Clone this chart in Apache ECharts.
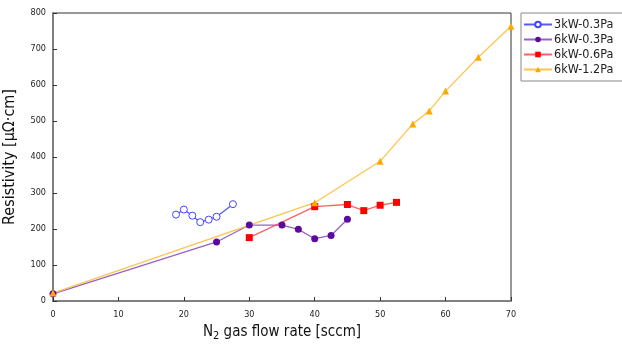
<!DOCTYPE html>
<html>
<head>
<meta charset="utf-8">
<script src="https://cdn.jsdelivr.net/npm/echarts@6/dist/echarts.min.js"></script>
<style>
  html, body { margin: 0; padding: 0; background: #fff; }
  #chart { width: 622px; height: 344px; }
</style>
</head>
<body>
<div id="chart"></div>
<script>
// series data: [flow sccm, resistivity]
const s3kW03 = [[18.8, 240], [20.0, 254], [21.3, 237], [22.5, 219], [23.8, 226], [25.0, 234], [27.5, 269]];
const s6kW03 = [[0, 20], [25, 164], [30, 211], [35, 211], [37.5, 199], [40, 173], [42.5, 182], [45, 227]];
const s6kW06 = [[30, 176], [40, 262], [45, 268], [47.5, 251], [50, 266], [52.5, 274]];
const s6kW12 = [[0, 22], [40, 273], [50, 388], [55, 492], [57.5, 528], [60, 583], [65, 677], [70, 763]];
const seriesNames = ['3kW-0.3Pa', '6kW-0.3Pa', '6kW-0.6Pa', '6kW-1.2Pa'];

const FONT = '"DejaVu Sans Condensed", Tahoma, "DejaVu Sans", sans-serif';
const chart = echarts.init(document.getElementById('chart'));

function line(name, data, color, lineColor, symbol, size, itemStyle) {
  return {
    name: name,
    type: 'line',
    data: data,
    symbol: symbol,
    symbolSize: size,
    lineStyle: { color: lineColor, width: 1.3 },
    itemStyle: itemStyle || { color: color, borderWidth: 0 },
    animation: false
  };
}

chart.setOption({
  backgroundColor: '#fff',
  grid: {
    left: 53, right: 111, top: 13, bottom: 43,
    outerBoundsMode: 'none',
    containLabel: false,
    show: true, borderColor: '#333', borderWidth: 1
  },
  legend: {
    orient: 'vertical',
    left: 521, top: 13,
    padding: [5, 10, 5, 2],
    itemGap: 2,
    itemWidth: 28, itemHeight: 7,
    borderColor: '#888', borderWidth: 1,
    textStyle: { fontFamily: FONT, fontSize: 12.5, color: '#222', padding: [0, 0, 0, -3] },
    data: seriesNames
  },
  xAxis: {
    type: 'value', min: 0, max: 70, interval: 10,
    name: '{n|N}{s|2}{n| gas flow rate [sccm]}',
    nameLocation: 'middle', nameGap: 22,
    nameTextStyle: {
      rich: {
        n: { fontFamily: FONT, fontSize: 15, color: '#111' },
        s: { fontFamily: FONT, fontSize: 11, color: '#111', verticalAlign: 'bottom', padding: [8, 0, 0, 0] }
      }
    },
    axisLine: { lineStyle: { color: '#808080', width: 2 } },
    axisTick: { inside: true, length: 4, lineStyle: { color: '#333', width: 1 } },
    axisLabel: { fontFamily: FONT, fontSize: 9, color: '#222', margin: 9 },
    splitLine: { show: false }
  },
  yAxis: {
    type: 'value', min: 0, max: 800, interval: 100,
    name: 'Resistivity [μΩ·cm]',
    nameLocation: 'middle', nameGap: 35,
    nameTextStyle: { fontFamily: FONT, fontSize: 16, color: '#111' },
    axisLine: { lineStyle: { color: '#808080', width: 2 } },
    axisTick: { inside: true, length: 4, lineStyle: { color: '#333', width: 1 } },
    axisLabel: { fontFamily: FONT, fontSize: 9, color: '#222', margin: 7 },
    splitLine: { show: false }
  },
  series: [
    line(seriesNames[0], s3kW03, '#4444ff', 'rgba(60,60,255,0.85)', 'circle', 7,
      { color: '#fff', borderColor: '#4444ff', borderWidth: 1 }),
    line(seriesNames[1], s6kW03, '#5c0a9e', 'rgba(130,70,190,0.85)', 'circle', 7),
    line(seriesNames[2], s6kW06, '#ff0000', 'rgba(255,70,70,0.85)', 'rect', 7),
    line(seriesNames[3], s6kW12, '#ffa800', 'rgba(255,190,60,0.9)', 'triangle', 7)
  ]
});
</script>
</body>
</html>
